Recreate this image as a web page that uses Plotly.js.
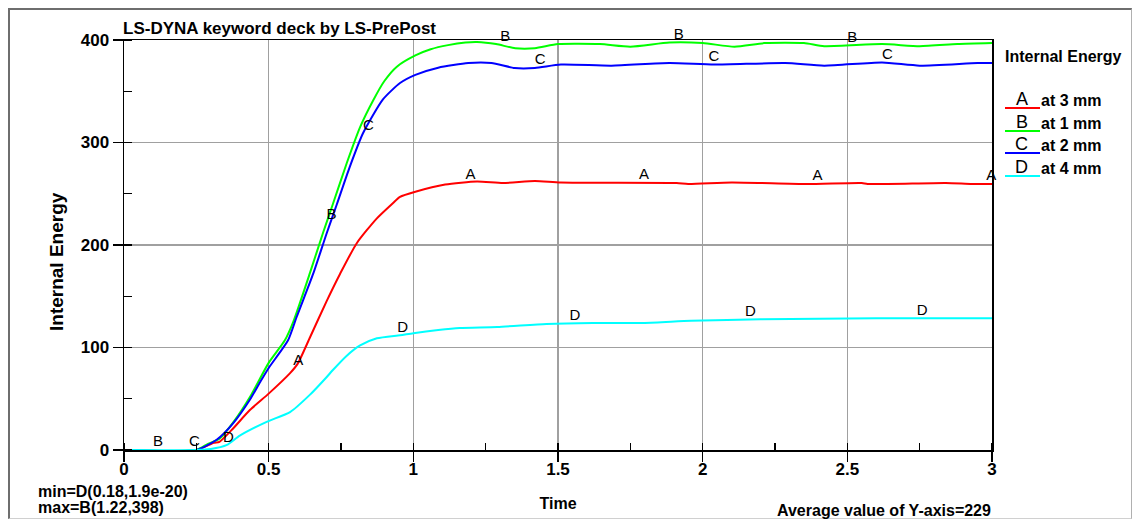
<!DOCTYPE html>
<html>
<head>
<meta charset="utf-8">
<script src="https://cdn.plot.ly/plotly-3.0.1.min.js"></script>
<style>
  html, body { margin: 0; padding: 0; background: #ffffff; }
  #wrap { position: relative; width: 1135px; height: 522px; overflow: hidden; background: #fff; }
  #frame { position: absolute; left: 8px; top: 8px; width: 1124px; height: 511px;
           border-top: 2px solid #6e6e6e; border-left: 2px solid #6e6e6e;
           border-right: 1px solid #b0b0b0; border-bottom: 1px solid #d0d0d0; box-sizing: border-box; }
  #chart { position: absolute; left: 0; top: 0; width: 1135px; height: 522px; }
</style>
</head>
<body>
<div id="wrap">
  <div id="frame"></div>
  <div id="chart"></div>
</div>
<script>
// ---------------- data ----------------
const seriesNames = ["A", "B", "C", "D"];
const seriesLegend = ["at 3 mm", "at 1 mm", "at 2 mm", "at 4 mm"];

// A : at 3 mm (red)
const timeA = [0, 0.25, 0.31, 0.33, 0.377, 0.435, 0.5, 0.574, 0.60, 0.643, 0.70, 0.747, 0.805, 0.874, 0.93, 0.954, 1.007, 1.11, 1.22, 1.31, 1.42, 1.51, 1.91, 1.95, 2.10, 2.36, 2.55, 2.57, 2.84, 2.93, 3.0];
const energyA = [0, 0, 7, 8, 21, 39, 55, 75, 84, 110, 145, 172, 202, 226, 241, 247, 252, 259, 262, 260.5, 262.5, 261, 260.5, 259.5, 261, 259.5, 260.5, 259.5, 260.5, 259.5, 259.5];

// B : at 1 mm (green)
const timeB = [0, 0.25, 0.29, 0.33, 0.38, 0.44, 0.5, 0.556, 0.585, 0.643, 0.688, 0.722, 0.77, 0.816, 0.861, 0.9, 0.943, 1.007, 1.06, 1.12, 1.18, 1.22, 1.286, 1.352, 1.42, 1.50, 1.645, 1.75, 1.885, 2.0, 2.11, 2.215, 2.35, 2.42, 2.62, 2.75, 2.88, 3.0];
const energyB = [0, 0, 6, 11, 28, 54, 85, 107, 125, 173, 212, 240, 280, 315, 341, 360, 374, 385, 391, 395, 397.5, 398, 396, 392, 392, 396, 396, 393.5, 397.5, 397, 393.5, 397, 397, 394, 396, 394, 396, 397];

// C : at 2 mm (blue)
const timeC = [0, 0.25, 0.32, 0.377, 0.435, 0.47, 0.5, 0.567, 0.597, 0.654, 0.70, 0.736, 0.78, 0.826, 0.895, 0.954, 1.007, 1.086, 1.19, 1.27, 1.35, 1.42, 1.51, 1.685, 1.885, 2.04, 2.285, 2.42, 2.62, 2.75, 2.95, 3.0];
const energyC = [0, 0, 10, 26, 49, 66, 80, 107, 130, 172, 211, 240, 276, 309, 342, 358, 366, 373, 377.5, 377.5, 372.7, 372.7, 376, 375, 377.5, 376, 377.5, 375, 378, 375, 377.5, 377.5];

// D : at 4 mm (cyan)
const timeD = [0, 0.25, 0.30, 0.356, 0.40, 0.493, 0.574, 0.643, 0.70, 0.722, 0.77, 0.816, 0.874, 0.954, 1.0, 1.086, 1.16, 1.29, 1.46, 1.62, 1.80, 1.96, 2.20, 2.60, 3.0];
const energyD = [0, 0, 1, 5, 14, 27.5, 37, 54, 71, 78, 92, 102, 109, 112, 114, 117, 119, 120, 123, 124, 124, 126, 127.5, 128.5, 128.5];

// curve identification letters along the curves (time at which each letter sits)
const labelTimeA = [0.585, 1.18, 1.78, 2.38, 2.98];
const labelTimeB = [0.10, 0.70, 1.30, 1.90, 2.50];
const labelTimeC = [0.225, 0.826, 1.42, 2.02, 2.62];
const labelTimeD = [0.342, 0.944, 1.54, 2.146, 2.74];

// axis ticks
const xTickVals = [0, 0.5, 1, 1.5, 2, 2.5, 3];
const xTickText = ["0", "0.5", "1", "1.5", "2", "2.5", "3"];
const yTickVals = [0, 100, 200, 300, 400];
const yTickText = ["0", "100", "200", "300", "400"];

const titleText = "LS-DYNA keyword deck by LS-PrePost";
const xTitle = "Time";
const yTitle = "Internal Energy";
const legendTitle = "Internal Energy";
const minText = "min=D(0.18,1.9e-20)";
const maxText = "max=B(1.22,398)";
const avgText = "Average value of Y-axis=229";

// ---------------- drawing ----------------
const colors = ["#ff0000", "#00ff00", "#0000ff", "#00ffff"];
const FONT = "Liberation Sans, Arial, Helvetica, sans-serif";

function interp(xs, ys, x) {
  if (x <= xs[0]) return ys[0];
  for (let i = 1; i < xs.length; i++) {
    if (x <= xs[i]) {
      const t = (x - xs[i - 1]) / (xs[i] - xs[i - 1]);
      return ys[i - 1] + t * (ys[i] - ys[i - 1]);
    }
  }
  return ys[ys.length - 1];
}

const allX = [timeA, timeB, timeC, timeD];
const allY = [energyA, energyB, energyC, energyD];
const allLab = [labelTimeA, labelTimeB, labelTimeC, labelTimeD];

const traces = [];
for (let i = 0; i < 4; i++) {
  traces.push({
    type: "scatter", mode: "lines", x: allX[i], y: allY[i],
    name: seriesNames[i] + " " + seriesLegend[i],
    line: { color: colors[i], width: 2, shape: "spline", smoothing: 0.6 },
    showlegend: false, hoverinfo: "x+y"
  });
}
for (let i = 0; i < 4; i++) {
  traces.push({
    type: "scatter", mode: "text",
    x: allLab[i],
    y: allLab[i].map(t => interp(allX[i], allY[i], t)),
    text: allLab[i].map(() => seriesNames[i]),
    textposition: "top right",
    textfont: { family: FONT, size: 15, color: "#000000" },
    cliponaxis: false, showlegend: false, hoverinfo: "skip"
  });
}

// plot area geometry (pixels) for placing legend items in paper units
const L = 124, T = 40, W = 868, H = 410;
const px = v => (v - L) / W;
const py = v => (T + H - v) / H;

const shapes = [];
const annotations = [];
const legendRowY = [108, 131, 153, 176];
for (let i = 0; i < 4; i++) {
  shapes.push({
    type: "line", xref: "paper", yref: "paper",
    x0: px(1005), x1: px(1040), y0: py(legendRowY[i]), y1: py(legendRowY[i]),
    line: { color: colors[i], width: 2 }
  });
  annotations.push({
    xref: "paper", yref: "paper", x: px(1022), y: py(legendRowY[i] + 3),
    xanchor: "center", yanchor: "bottom", showarrow: false,
    text: seriesNames[i], font: { family: FONT, size: 18, color: "#000" }
  });
  annotations.push({
    xref: "paper", yref: "paper", x: px(1039), y: py(legendRowY[i] + 3),
    xanchor: "left", yanchor: "bottom", showarrow: false,
    text: "<b>" + seriesLegend[i] + "</b>", font: { family: FONT, size: 16, color: "#000" }
  });
}
annotations.push({
  xref: "paper", yref: "paper", x: px(1003), y: py(56),
  xanchor: "left", yanchor: "middle", showarrow: false,
  text: "<b>" + legendTitle + "</b>", font: { family: FONT, size: 16, color: "#000" }
});
annotations.push({
  xref: "paper", yref: "paper", x: px(36), y: py(491),
  xanchor: "left", yanchor: "middle", showarrow: false,
  text: "<b>" + minText + "</b>", font: { family: FONT, size: 16, color: "#000" }
});
annotations.push({
  xref: "paper", yref: "paper", x: px(36), y: py(508),
  xanchor: "left", yanchor: "middle", showarrow: false,
  text: "<b>" + maxText + "</b>", font: { family: FONT, size: 16, color: "#000" }
});
annotations.push({
  xref: "paper", yref: "paper", x: px(993), y: py(511),
  xanchor: "right", yanchor: "middle", showarrow: false,
  text: "<b>" + avgText + "</b>", font: { family: FONT, size: 16, color: "#000" }
});
// y-axis title (placed slightly below the plot centre, as in the reference)
annotations.push({
  xref: "paper", yref: "paper", x: px(56), y: py(262),
  xanchor: "center", yanchor: "middle", showarrow: false, textangle: -90,
  text: "<b>" + yTitle + "</b>", font: { family: FONT, size: 19, color: "#000" }
});

const axisCommon = {
  showline: true, linecolor: "#000", linewidth: 1.5, mirror: true,
  showgrid: true, gridcolor: "#a0a0a0", gridwidth: 1.2,
  zeroline: false, ticks: "outside", ticklen: 10, tickwidth: 1.2, tickcolor: "#000",
  tickfont: { family: FONT, size: 17, color: "#000", weight: "bold" }
};

const layout = {
  width: 1135, height: 522,
  margin: { l: L, r: 1135 - L - W, t: T, b: 522 - T - H, pad: 0 },
  paper_bgcolor: "rgba(0,0,0,0)", plot_bgcolor: "#ffffff",
  showlegend: false,
  title: {
    text: "<b>" + titleText + "</b>", xref: "container", yref: "container",
    x: 123 / 1135, xanchor: "left", y: 1 - 28 / 522, yanchor: "middle",
    font: { family: FONT, size: 17, color: "#000" }
  },
  xaxis: Object.assign({}, axisCommon, {
    range: [0, 3], tickmode: "array", tickvals: xTickVals, ticktext: xTickText,
    ticklabelstandoff: -7,
    minor: { dtick: 0.25, ticks: "inside", ticklen: 7, tickcolor: "#000", showgrid: false },
    title: { text: "<b>" + xTitle + "</b>", font: { family: FONT, size: 16, color: "#000" }, standoff: 20 }
  }),
  yaxis: Object.assign({}, axisCommon, {
    range: [0, 400], tickmode: "array", tickvals: yTickVals, ticktext: yTickText,
    minor: { dtick: 50, ticks: "inside", ticklen: 8, tickcolor: "#000", showgrid: false }
  }),
  shapes: shapes,
  annotations: annotations
};

Plotly.newPlot("chart", traces, layout, { displayModeBar: false, staticPlot: true });
</script>
</body>
</html>
